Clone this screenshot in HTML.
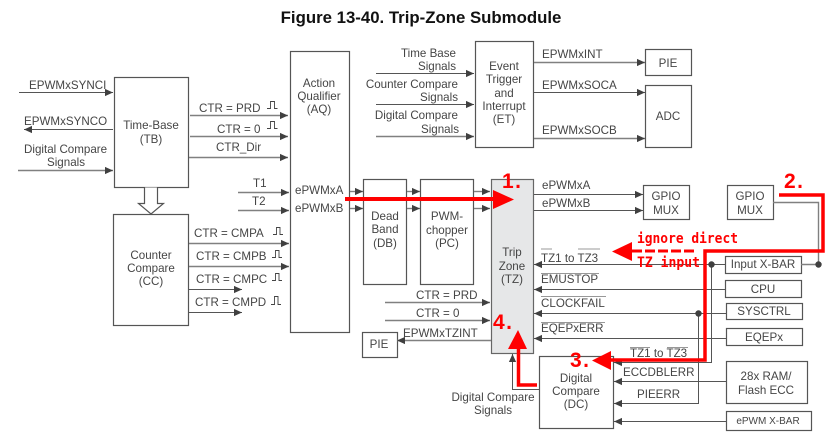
<!DOCTYPE html>
<html><head><meta charset="utf-8"><style>
html,body{margin:0;padding:0;background:#fff}
svg{display:block}
text{font-family:"Liberation Sans",sans-serif;font-size:11.6px;fill:#454545}
.c{text-anchor:middle}.e{text-anchor:end}
.b{fill:#fff;stroke:#555;stroke-width:1.2}
.l{fill:none;stroke:#555;stroke-width:1}
.g{fill:none;stroke:#808080;stroke-width:1.4}
.p{fill:none;stroke:#444;stroke-width:.9}
.o{stroke:#777;stroke-width:.8}
.r{font-family:"DejaVu Sans Mono","Liberation Mono",monospace;font-weight:bold;fill:#f00}
.n{font-family:"Liberation Sans",sans-serif;font-weight:bold;fill:#f00;font-size:21px;letter-spacing:1.5px}
</style></head><body>
<svg width="838" height="436" viewBox="0 0 838 436" xmlns="http://www.w3.org/2000/svg">
<defs><marker id="a" markerUnits="userSpaceOnUse" markerWidth="9" markerHeight="9" refX="8" refY="4.500" orient="auto"><path d="M0 .9L8 4.500L0 8.100z" fill="#404040"/></marker></defs>
<text x="421" y="23" class="c" style="font-size:16.8px;font-weight:bold;fill:#111">Figure 13-40. Trip-Zone Submodule</text>

<!-- boxes -->
<rect class="b" x="114.500" y="77.500" width="74" height="110"/>
<rect class="b" x="113.500" y="214.500" width="75" height="111"/>
<rect class="b" x="290.500" y="51.500" width="59" height="281"/>
<rect class="b" x="475.500" y="41.500" width="58" height="106"/>
<rect class="b" x="645.500" y="49.500" width="46" height="26"/>
<rect class="b" x="645.500" y="85.500" width="46" height="62"/>
<rect class="b" x="363.500" y="179.500" width="43" height="105"/>
<rect class="b" x="420.500" y="179.500" width="53" height="105"/>
<rect x="491.500" y="179.500" width="42" height="174" fill="#e6e7e8" stroke="#666" stroke-width="1.2"/>
<rect class="b" x="643.500" y="185.500" width="46" height="34"/>
<rect class="b" x="727.500" y="185.500" width="46" height="34"/>
<rect class="b" x="725.500" y="256.500" width="76" height="17"/>
<rect class="b" x="725.500" y="280.500" width="76" height="17"/>
<rect class="b" x="726.500" y="303.500" width="76" height="16"/>
<rect class="b" x="726.500" y="328.500" width="76" height="17"/>
<rect class="b" x="726.500" y="361.500" width="81" height="42"/>
<rect class="b" x="726.500" y="411.500" width="85" height="19"/>
<rect class="b" x="539.500" y="356.500" width="74" height="72"/>
<rect class="b" x="362.500" y="332.500" width="35" height="25"/>
<path d="M144.500 187.500v16h-6l12.500 10.500 12.500-10.500h-6v-16" fill="#fff" stroke="#555" stroke-width="1.2"/>

<!-- connectors -->
<path class="l" d="M19 92.500H113" marker-end="url(#a)"/>
<path class="l" d="M113 129.500H24" marker-end="url(#a)"/>
<path class="g" d="M18 170.500H113" marker-end="url(#a)"/>
<path class="g" d="M190 115.500H288" marker-end="url(#a)"/>
<path class="g" d="M190 136.500H288" marker-end="url(#a)"/>
<path class="g" d="M189 157.500H288" marker-end="url(#a)"/>
<path class="g" d="M238 192.500H289" marker-end="url(#a)"/>
<path class="g" d="M238 210.500H289" marker-end="url(#a)"/>
<path class="g" d="M189 243.500H289" marker-end="url(#a)"/>
<path class="g" d="M189 266.500H289" marker-end="url(#a)"/>
<path class="l" d="M189 289.500H242" marker-end="url(#a)"/>
<path class="l" d="M189 312.500H242" marker-end="url(#a)"/>
<path class="l" d="M376 73.500H474" marker-end="url(#a)"/>
<path class="l" d="M376 104.500H474" marker-end="url(#a)"/>
<path class="g" d="M376 136.500H474" marker-end="url(#a)"/>
<path class="g" d="M534 62.500H645" marker-end="url(#a)"/>
<path class="l" d="M534 92.500H645" marker-end="url(#a)"/>
<path class="g" d="M534 138.500H645" marker-end="url(#a)"/>
<path class="g" d="M350 191.500H363" marker-end="url(#a)"/>
<path class="g" d="M350 208.500H363" marker-end="url(#a)"/>
<path class="g" d="M407 191.500H420" marker-end="url(#a)"/>
<path class="g" d="M407 208.500H420" marker-end="url(#a)"/>
<path class="g" d="M474 191.500H490" marker-end="url(#a)"/>
<path class="g" d="M474 208.500H490" marker-end="url(#a)"/>
<path class="l" d="M534 194.500H643" marker-end="url(#a)"/>
<path class="l" d="M534 210.500H643" marker-end="url(#a)"/>
<path class="g" d="M385 302.500H490" marker-end="url(#a)"/>
<path class="g" d="M385 320.500H490" marker-end="url(#a)"/>
<path class="g" d="M491 340.500H397" marker-end="url(#a)"/>
<path class="l" d="M725 264.500H534" marker-end="url(#a)"/>
<path class="l" d="M725 289.500H534" marker-end="url(#a)"/>
<path class="l" d="M726 313.500H534" marker-end="url(#a)"/>
<path class="l" d="M726 338.500H534" marker-end="url(#a)"/>
<path class="l" d="M711.500 264V362.500H614" marker-end="url(#a)"/>
<path class="l" d="M698.500 313V403.500H614" marker-end="url(#a)"/>
<path class="l" d="M726 381.500H614" marker-end="url(#a)"/>
<path class="l" d="M726 421.500H614" marker-end="url(#a)"/>
<path class="l" d="M539 389.500H512.500V354" marker-end="url(#a)"/>
<path class="g" d="M773 202.500H818.500V264.500H801"/>
<circle cx="818.500" cy="264.500" r="3.200" fill="#404040"/>
<circle cx="711.500" cy="264.500" r="3.200" fill="#404040"/>
<circle cx="698.500" cy="313.500" r="3.200" fill="#404040"/>

<!-- pulses -->
<path class="p" d="M267 108.500h3.500v-7h4v7h3"/>
<path class="p" d="M267 128.500h3.500v-7h4v7h3"/>
<path class="p" d="M273 234.500h3.500v-7h3.500v7h3"/>
<path class="p" d="M272 257.500h3.500v-7h3.500v7h3"/>
<path class="p" d="M272 280.500h3.500v-7h3.500v7h3"/>
<path class="p" d="M271 304.500h3.500v-8h3.500v8h3"/>

<!-- labels -->
<text x="29" y="89">EPWMxSYNCI</text>
<text x="24" y="125">EPWMxSYNCO</text>
<text x="24" y="153">Digital Compare</text>
<text x="47" y="166">Signals</text>
<text x="151" y="129" class="c">Time-Base</text>
<text x="151" y="143" class="c">(TB)</text>
<text x="199" y="112">CTR = PRD</text>
<text x="217" y="133">CTR = 0</text>
<text x="216" y="151">CTR_Dir</text>
<text x="253" y="187">T1</text>
<text x="252" y="205">T2</text>
<text x="319" y="87" class="c">Action</text>
<text x="319" y="100" class="c">Qualifier</text>
<text x="319" y="113" class="c">(AQ)</text>
<text x="295" y="194">ePWMxA</text>
<text x="295" y="212">ePWMxB</text>
<text x="151" y="259" class="c">Counter</text>
<text x="151" y="272" class="c">Compare</text>
<text x="151" y="285" class="c">(CC)</text>
<text x="194" y="237">CTR = CMPA</text>
<text x="196" y="260">CTR = CMPB</text>
<text x="196" y="283">CTR = CMPC</text>
<text x="195" y="306">CTR = CMPD</text>
<text x="385" y="220" class="c">Dead</text>
<text x="385" y="233" class="c">Band</text>
<text x="385" y="247" class="c">(DB)</text>
<text x="447" y="220" class="c">PWM-</text>
<text x="447" y="234" class="c">chopper</text>
<text x="447" y="247" class="c">(PC)</text>
<text x="512" y="256" class="c">Trip</text>
<text x="512" y="270" class="c">Zone</text>
<text x="512" y="283" class="c">(TZ)</text>
<text x="416" y="299">CTR = PRD</text>
<text x="416" y="317">CTR = 0</text>
<text x="403" y="337">EPWMxTZINT</text>
<text x="379" y="348" class="c">PIE</text>
<text x="493" y="401" class="c">Digital Compare</text>
<text x="493" y="414" class="c">Signals</text>
<text x="576" y="382" class="c">Digital</text>
<text x="576" y="395" class="c">Compare</text>
<text x="576" y="408" class="c">(DC)</text>
<text x="456" y="57" class="e">Time Base</text>
<text x="456" y="70" class="e">Signals</text>
<text x="458" y="88" class="e">Counter Compare</text>
<text x="458" y="101" class="e">Signals</text>
<text x="458" y="119" class="e">Digital Compare</text>
<text x="459" y="133" class="e">Signals</text>
<text x="504" y="70" class="c">Event</text>
<text x="504" y="83" class="c">Trigger</text>
<text x="504" y="97" class="c">and</text>
<text x="504" y="110" class="c">Interrupt</text>
<text x="504" y="123" class="c">(ET)</text>
<text x="542" y="58">EPWMxINT</text>
<text x="542" y="89">EPWMxSOCA</text>
<text x="542" y="134">EPWMxSOCB</text>
<text x="668" y="67" class="c">PIE</text>
<text x="668" y="120" class="c">ADC</text>
<text x="542" y="189">ePWMxA</text>
<text x="542" y="207">ePWMxB</text>
<text x="666" y="200" class="c">GPIO</text>
<text x="666" y="214" class="c">MUX</text>
<text x="750" y="200" class="c">GPIO</text>
<text x="750" y="214" class="c">MUX</text>
<text x="541" y="262">TZ1 to TZ3</text>
<path class="o" d="M541 249h11M578 249h22M541 273.500h58M541 296.500h65M541 322.500h64M630 347.500h20M667 347.500h21"/>
<text x="541" y="283">EMUSTOP</text>
<text x="541" y="307">CLOCKFAIL</text>
<text x="541" y="332">EQEPxERR</text>
<text x="763" y="268" class="c">Input X-BAR</text>
<text x="763" y="293" class="c">CPU</text>
<text x="764" y="315" class="c">SYSCTRL</text>
<text x="764" y="341" class="c">EQEPx</text>
<text x="766" y="380" class="c">28x RAM/</text>
<text x="766" y="394" class="c">Flash ECC</text>
<text x="768" y="424" class="c" style="font-size:10px">ePWM X-BAR</text>
<text x="630" y="357">TZ1 to TZ3</text>
<text x="623" y="376">ECCDBLERR</text>
<text x="637" y="398">PIEERR</text>

<!-- red annotations -->
<path d="M345 199H494" stroke="#f00" stroke-width="4" fill="none"/>
<path d="M493 190L514 199.500L493 209z" fill="#f00"/>
<path d="M779 195H823V251H705V360H610" stroke="#f00" stroke-width="3.500" fill="none"/>
<path d="M611 351L592 360.500L611 370z" fill="#f00"/>
<path d="M632 242L612 251.500L632 261z" fill="#f00"/>
<path d="M632 251H697" stroke="#f00" stroke-width="3" stroke-dasharray="10 3" fill="none"/>
<path d="M537 385H518.500V348" stroke="#f00" stroke-width="3.500" fill="none"/>
<path d="M508 349L518 330L527 349z" fill="#f00"/>
<text class="n" x="502" y="188">1.</text>
<text class="n" x="784" y="188">2.</text>
<text class="n" x="570" y="367">3.</text>
<text class="n" x="493" y="329">4.</text>
<text class="r" x="637" y="243" style="font-size:14.5px" textLength="101" lengthAdjust="spacingAndGlyphs">ignore direct</text>
<text class="r" x="637" y="267" style="font-size:14.5px" textLength="63" lengthAdjust="spacingAndGlyphs">TZ input</text>
</svg>
</body></html>
